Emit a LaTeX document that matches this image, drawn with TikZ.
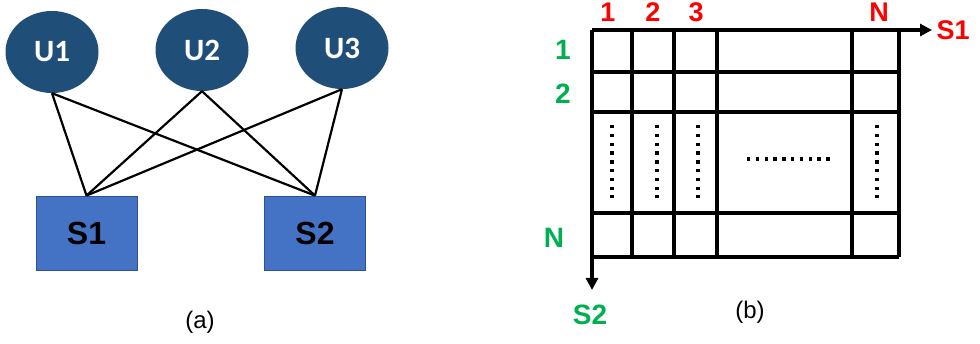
\documentclass[tikz,border=0pt]{standalone}
\usepackage{fontspec}
\setmainfont{Liberation Sans}
\newfontfamily\userfont{Carlito}
\usetikzlibrary{arrows.meta}
\usetikzlibrary{shapes.geometric}

\definecolor{userblue}{HTML}{1F4E79}
\definecolor{srvblue}{HTML}{4472C4}
\definecolor{srvedge}{HTML}{2F528F}
\definecolor{rowgreen}{HTML}{00B050}

\begin{document}
\begin{tikzpicture}[x=1pt, y=-1pt,
  user/.style={ellipse, fill=userblue, minimum width=93pt, minimum height=82pt,
    inner sep=0pt, text=white, font=\userfont\bfseries\fontsize{31}{31}\selectfont},
  server/.style={rectangle, fill=srvblue, draw=srvedge, line width=0.8pt,
    minimum width=101pt, minimum height=74pt, inner sep=0pt,
    font=\bfseries\fontsize{32}{32}\selectfont},
  link/.style={line width=2.2pt},
  grid line/.style={line width=3.4pt},
  col label/.style={text=red, font=\bfseries\fontsize{27}{27}\selectfont},
  row label/.style={text=rowgreen, font=\bfseries\fontsize{28}{28}\selectfont},
  caption/.style={font=\fontsize{24}{24}\selectfont},
  dots/.style={line width=3.4pt, dash pattern=on 3.4pt off 5.4pt}]
\useasboundingbox (0,0) rectangle (980,344);

% (a)
\node[user] (u1) at (52,52) {U1};
\node[user] (u2) at (202,50) {U2};
\node[user] (u3) at (342,48) {U3};
\node[server] (s1) at (86.5,233) {S1};
\node[server] (s2) at (315,233) {S2};
\foreach \u in {u1,u2,u3} {
  \draw[link] (\u.south) -- (s1.north);
  \draw[link] (\u.south) -- (s2.north);
}
\node[caption] (cap-a) at (200,322) {(a)};

% (b)
\coordinate (origin) at (592,30);
\coordinate (s1-end) at (932,30);
\coordinate (s2-end) at (592,290);
\foreach \x in {632,674,717,852,899}
  \draw[grid line] (\x,30) -- (\x,257);
\foreach \y in {72,112,213,257}
  \draw[grid line] (592,\y) -- (899,\y);
\draw[grid line, -{Triangle[length=12pt,width=12pt]}] (origin) -- (s1-end);
\draw[grid line, -{Triangle[length=12pt,width=12pt]}] (origin) -- (s2-end);

\foreach \x in {612,657,698,877}
  \draw[dots] (\x,125) -- (\x,198);
\draw[dots] (747,159) -- (830,159);

\node[col label] (c1) at (608,12) {1};
\node[col label] (c2) at (653,12) {2};
\node[col label] (c3) at (696,12) {3};
\node[col label] (cn) at (879,12) {N};
\node[col label, right=1pt] (s1-label) at (s1-end) {S1};
\node[row label] (r1) at (563,50) {1};
\node[row label] (r2) at (563,94) {2};
\node[row label] (rn) at (554,238) {N};
\node[row label] (s2-label) at (590,315) {S2};
\node[caption] (cap-b) at (750,312) {(b)};
\end{tikzpicture}
\end{document}
